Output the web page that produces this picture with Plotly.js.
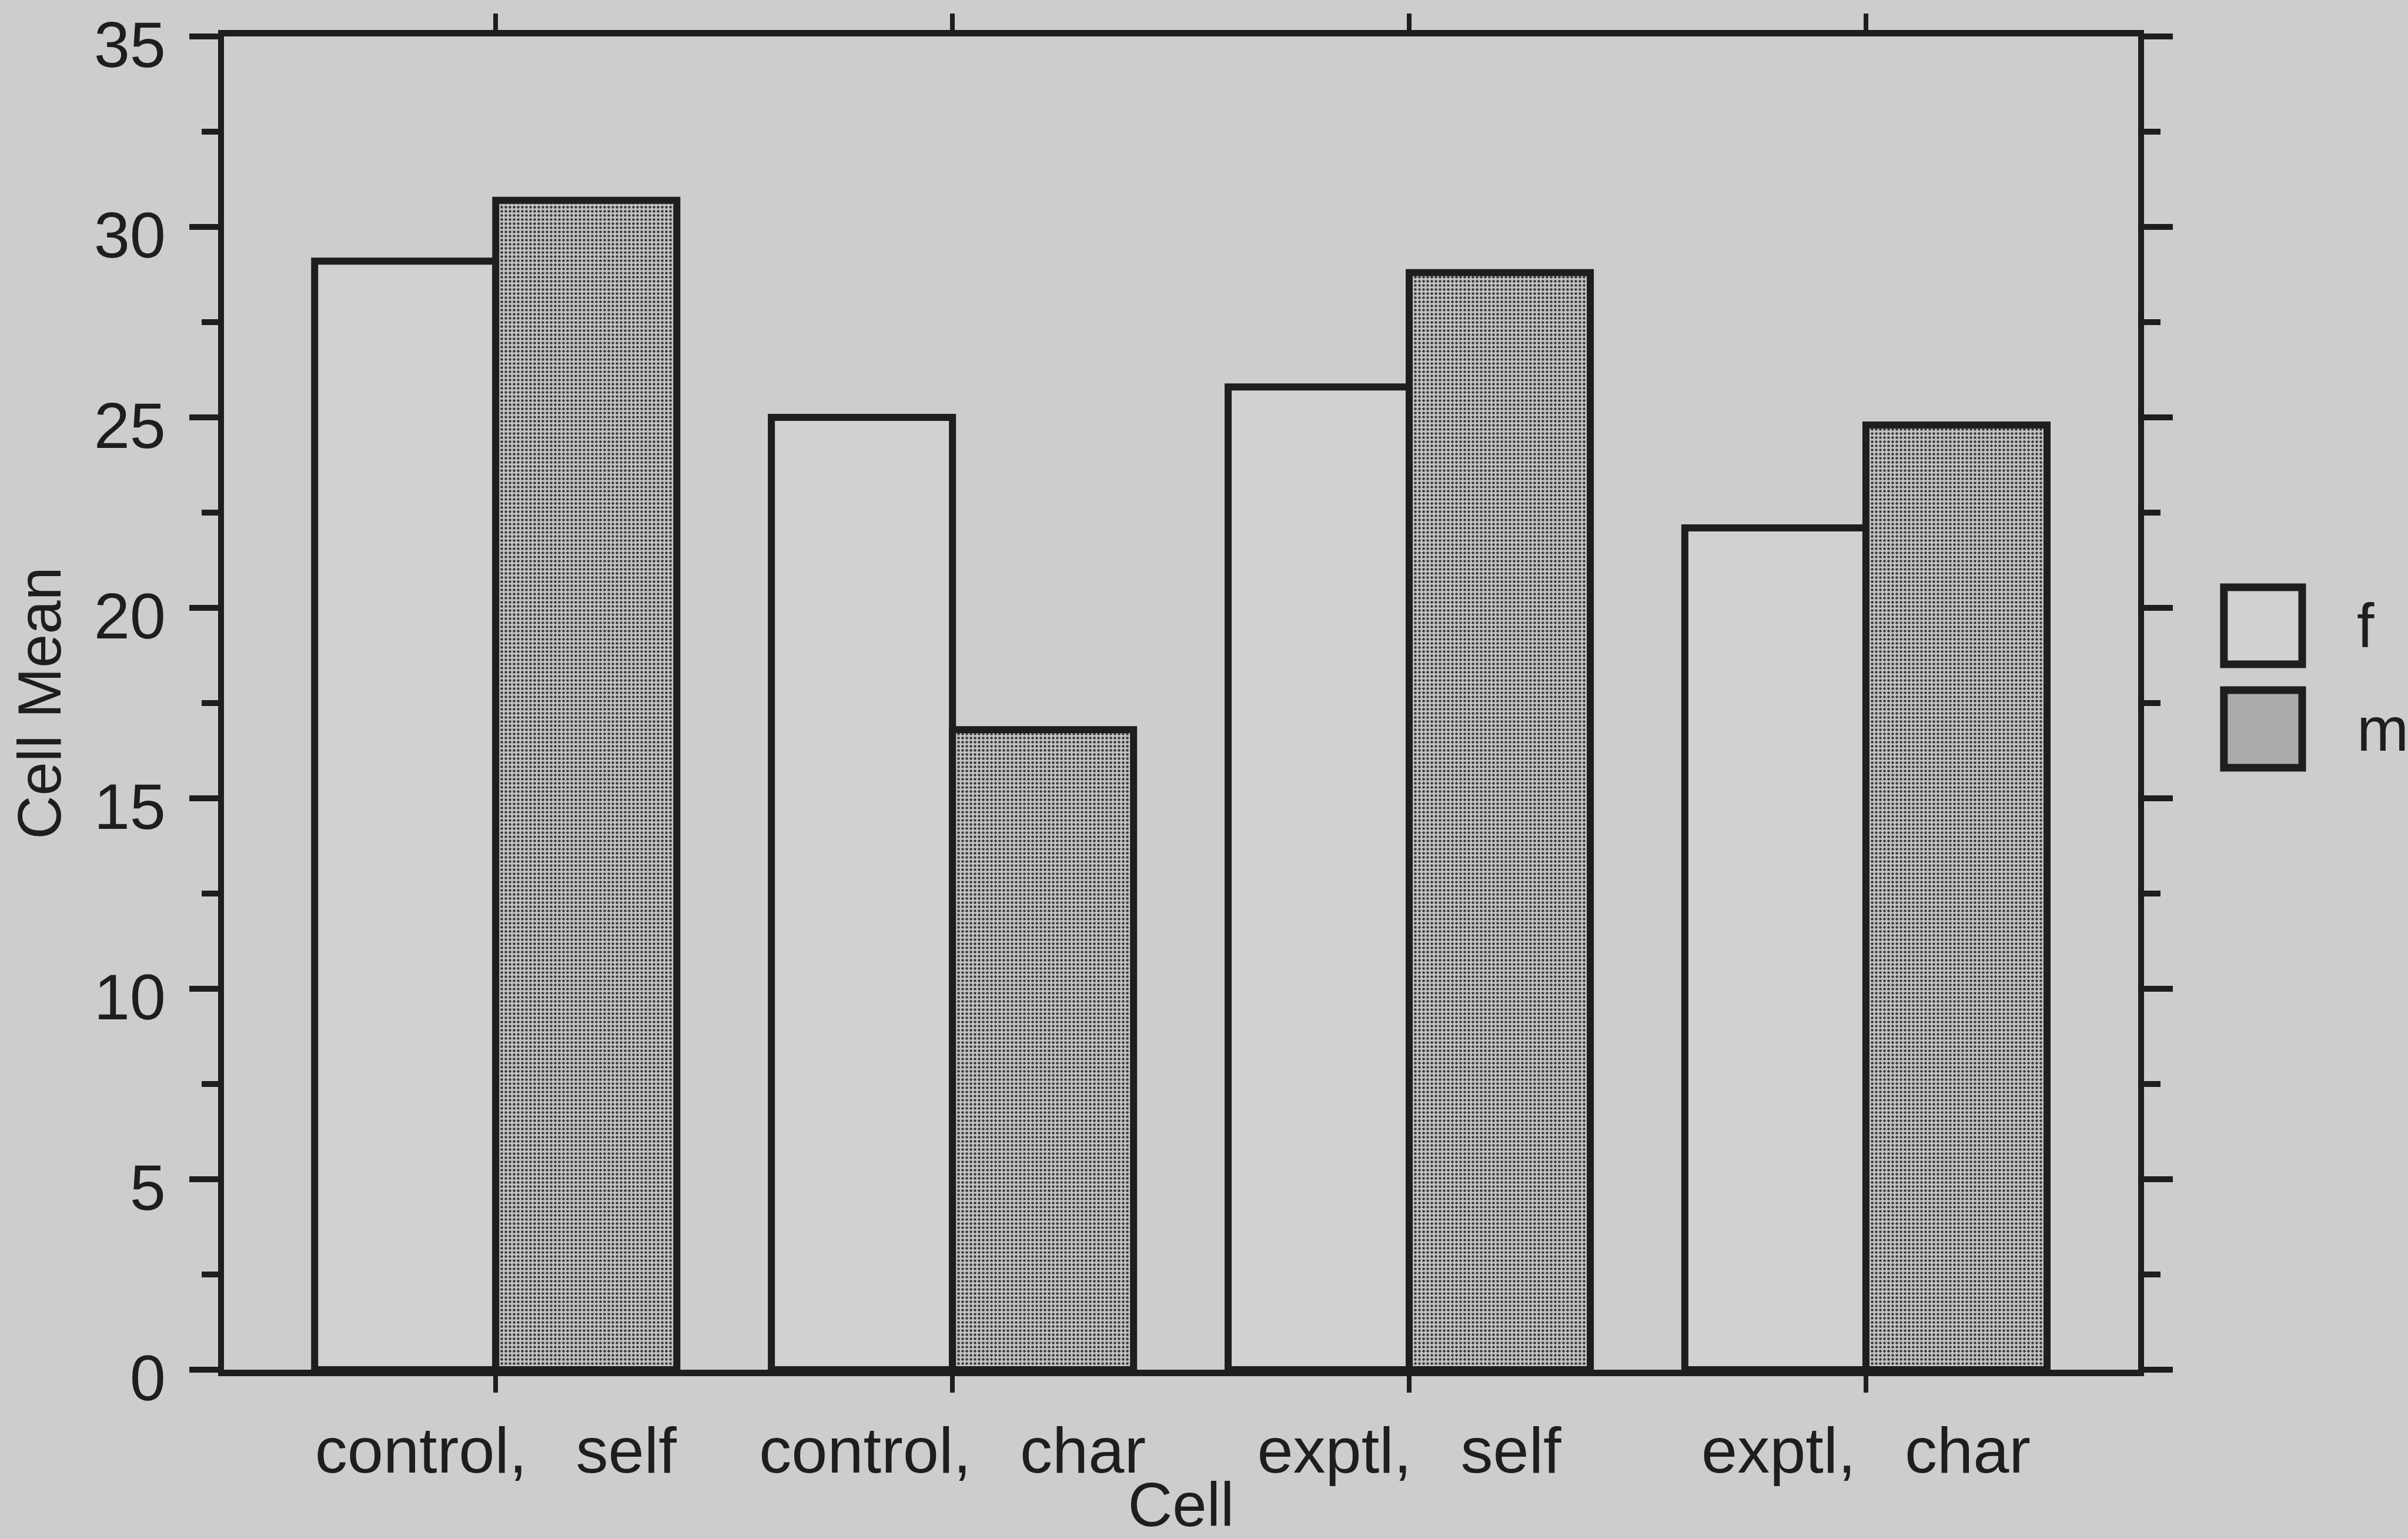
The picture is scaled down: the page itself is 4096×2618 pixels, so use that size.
<!DOCTYPE html>
<html>
<head>
<meta charset="utf-8">
<script src="https://cdn.plot.ly/plotly-3.0.1.min.js"></script>
<style>
  html, body { margin: 0; padding: 0; background: #cdcdcd; }
  #chart { width: 4096px; height: 2618px; }
</style>
</head>
<body>
<div id="chart"></div>
<script>
// ---- data ----
const categories = ['control,\u00a0\u00a0\u2009self', 'control,\u00a0\u00a0\u2009char', 'exptl,\u00a0\u00a0\u2009self', 'exptl,\u00a0\u00a0\u2009char'];
const seriesNames = ['f', 'm'];
const fValues = [29.1, 25.0, 25.8, 22.1];
const mValues = [30.7, 16.8, 28.8, 24.8];
const yTickVals = [0, 5, 10, 15, 20, 25, 30, 35];
const xTitle = 'Cell';
const yTitle = 'Cell Mean';

const ink = '#1e1e1e';
const bg = '#cdcdcd';
const fontFam = '"Liberation Sans", Arial, Helvetica, sans-serif';

const traces = [
  {
    type: 'bar', name: seriesNames[0], x: categories, y: fValues,
    marker: { color: '#d1d1d1', line: { color: ink, width: 12 } },
    showlegend: false
  },
  {
    type: 'bar', name: seriesNames[1], x: categories, y: mValues,
    marker: {
      color: '#9c9c9c',
      line: { color: ink, width: 12 },
      pattern: { shape: '.', fgcolor: '#3a3a3a', bgcolor: '#c4c4c4', size: 7, solidity: 0.34 }
    },
    showlegend: false
  }
];

// legend drawn as boxes + labels beside the plot
const legendBoxes = [
  { y0: 0.5291, y1: 0.5869, fill: '#d1d1d1' },
  { y0: 0.4515, y1: 0.5097, fill: '#ababab' }
];
const shapes = legendBoxes.map(b => ({
  type: 'rect', xref: 'paper', yref: 'paper',
  x0: 1.0448, x1: 1.0857, y0: b.y0, y1: b.y1,
  fillcolor: b.fill, line: { color: ink, width: 13 }
}));
const annotations = seriesNames.map((n, i) => ({
  xref: 'paper', yref: 'paper', x: 1.1135, y: (legendBoxes[i].y0 + legendBoxes[i].y1) / 2,
  xanchor: 'left', yanchor: 'middle', text: n, showarrow: false,
  font: { family: fontFam, size: 106, color: ink }
}));

const layout = {
  width: 4096, height: 2618,
  margin: { l: 381, r: 459, t: 62, b: 288 },
  paper_bgcolor: bg, plot_bgcolor: bg,
  font: { family: fontFam, color: ink, size: 104 },
  barmode: 'group', bargap: 0.207, bargroupgap: 0,
  showlegend: false,
  xaxis: {
    type: 'category',
    range: [-0.595, 3.596],
    showgrid: false, zeroline: false,
    showline: true, linecolor: ink, linewidth: 11,
    mirror: 'ticks',
    ticks: 'outside', ticklen: 28, tickwidth: 8, tickcolor: ink,
    tickfont: { family: fontFam, size: 110, color: ink },
    ticklabelstandoff: 4,
    automargin: false,
    title: { text: xTitle, font: { family: fontFam, size: 105, color: ink }, standoff: 75 }
  },
  yaxis: {
    range: [0, 35],
    tickvals: yTickVals,
    showgrid: false, zeroline: false,
    showline: true, linecolor: ink, linewidth: 10,
    mirror: 'ticks',
    ticks: 'outside', ticklen: 49, tickwidth: 10, tickcolor: ink,
    minor: { dtick: 2.5, ticks: 'outside', ticklen: 28, tickwidth: 10, tickcolor: ink, showgrid: false },
    tickfont: { family: fontFam, size: 110, color: ink },
    ticklabelstandoff: 18,
    ticklabelshift: 13,
    ticklabeloverflow: 'allow',
    automargin: false,
    title: { text: yTitle, font: { family: fontFam, size: 103, color: ink }, standoff: 26 }
  },
  shapes: shapes,
  annotations: annotations
};

Plotly.newPlot('chart', traces, layout, { staticPlot: true, displayModeBar: false });
</script>
</body>
</html>
